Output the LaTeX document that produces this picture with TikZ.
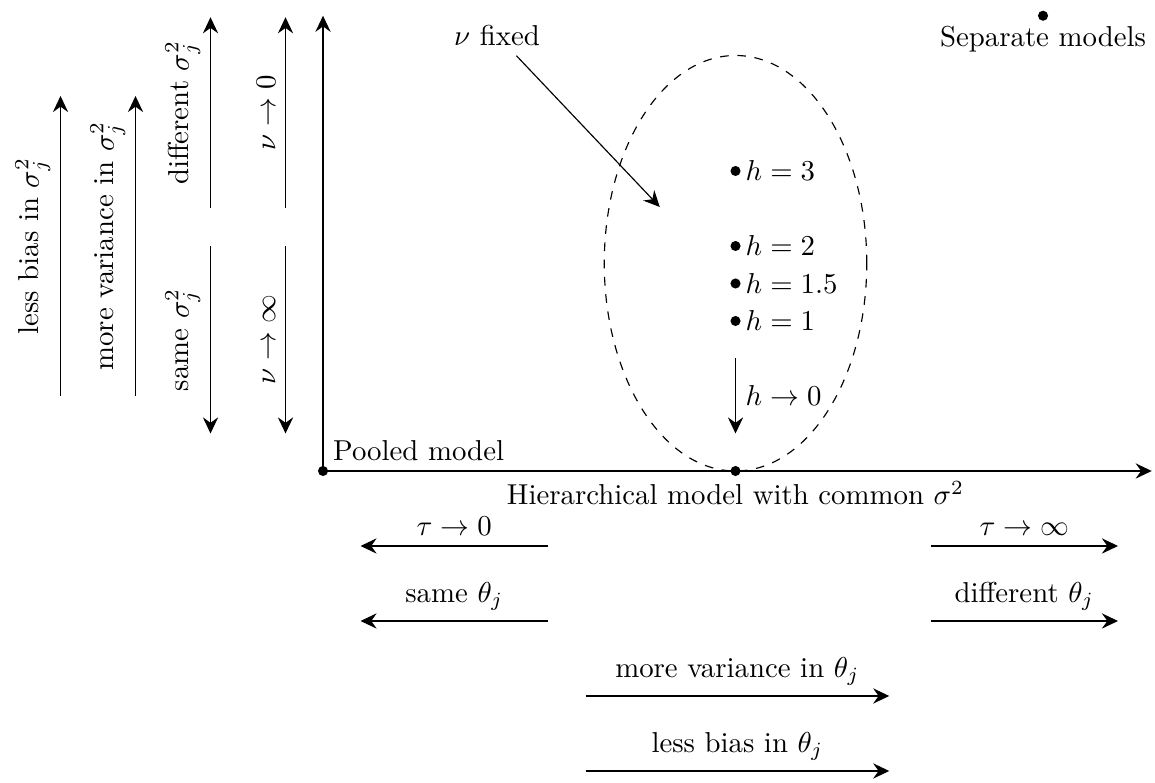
\documentclass[tikz,border=0pt]{standalone}
\usepackage{tikz}
\usetikzlibrary{arrows.meta}

\begin{document}
\begin{tikzpicture}[x=0.915cm, y=0.915cm]
  \tikzset{
    dot/.style={
      circle,
      fill=black,
      inner sep=0pt,
      minimum size=3.5pt
    },
    trend/.style={
      -{Stealth[length=5.6pt,width=5.3pt,inset=1.9pt]}
    },
    backtrend/.style={
      {Stealth[length=5.6pt,width=5.3pt,inset=1.9pt]}-
    }
  }
  \useasboundingbox (-4.307,-4.147) rectangle (11.093,6.28);

  % Draw the axes
  \node[dot] (pooled) at (0,0) {};
  \coordinate (ytop) at (0,6.07);
  \coordinate (xend) at (11.05,0);
  \draw[trend] (pooled.center) -- (ytop);
  \draw[trend] (pooled.center) -- (xend);
  \node[above right] (pooledlab) at (pooled.center) {Pooled model};

  % Hierarchical model and the h family
  \node[dot] (hier) at (5.5,0) {};
  \node[below] (hierlab) at (hier.center) {Hierarchical model with common $\sigma^2$};
  \draw[dashed] (5.5,2.77) ellipse [x radius=1.75, y radius=2.77];
  \node[dot] (h3) at (5.5,4) {};
  \node[right] (h3lab) at (h3.center) {$h=3$};
  \node[dot] (h2) at (5.5,3) {};
  \node[right] (h2lab) at (h2.center) {$h=2$};
  \node[dot] (h15) at (5.5,2.5) {};
  \node[right] (h15lab) at (h15.center) {$h=1.5$};
  \node[dot] (h1) at (5.5,2) {};
  \node[right] (h1lab) at (h1.center) {$h=1$};
  \coordinate (hfrom) at (5.5,1.5);
  \coordinate (hto) at (5.5,0.5);
  \draw[trend] (hfrom) -- (hto) node[midway, right] (hlab) {$h\to 0$};

  % nu fixed pointer
  \node (nufixed) at (2.32,5.81) {$\nu$ fixed};
  \coordinate (nutip) at (4.49,3.52);
  \draw[trend] (nufixed) -- (nutip);

  % Separate models
  \node[dot] (sep) at (9.6,6.07) {};
  \node[below] (seplab) at (sep.center) {Separate models};

  % Vertical trends on the left
  \coordinate (lbs0) at (-3.5,1);
  \coordinate (lbs1) at (-3.5,5);
  \draw[trend] (lbs0) -- (lbs1) node[midway, above, sloped] (lbslab) {less bias in $\sigma_j^2$};
  \coordinate (mvs0) at (-2.5,1);
  \coordinate (mvs1) at (-2.5,5);
  \draw[trend] (mvs0) -- (mvs1) node[midway, above, sloped] (mvslab) {more variance in $\sigma_j^2$};
  \coordinate (dfs0) at (-1.5,3.5);
  \coordinate (dfs1) at (-1.5,6.05);
  \draw[trend] (dfs0) -- (dfs1) node[midway, above, sloped] (dfslab) {different $\sigma_j^2$};
  \coordinate (sms0) at (-1.5,0.5);
  \coordinate (sms1) at (-1.5,3);
  \draw[backtrend] (sms0) -- (sms1) node[midway, above, sloped] (smslab) {same $\sigma_j^2$};
  \coordinate (nuz0) at (-0.5,3.5);
  \coordinate (nuz1) at (-0.5,6.05);
  \draw[trend] (nuz0) -- (nuz1) node[midway, above, sloped] (nuzlab) {$\nu\to 0$};
  \coordinate (nui0) at (-0.5,0.5);
  \coordinate (nui1) at (-0.5,3);
  \draw[backtrend] (nui0) -- (nui1) node[midway, above, sloped] (nuilab) {$\nu\to\infty$};

  % Horizontal trends below
  \coordinate (tz0) at (0.5,-1);
  \coordinate (tz1) at (3,-1);
  \draw[backtrend] (tz0) -- (tz1) node[midway, above] (tzlab) {$\tau\to 0$};
  \coordinate (smt0) at (0.5,-2);
  \coordinate (smt1) at (3,-2);
  \draw[backtrend] (smt0) -- (smt1) node[midway, above] (smtlab) {same $\theta_j$};
  \coordinate (ti0) at (8.1,-1);
  \coordinate (ti1) at (10.6,-1);
  \draw[trend] (ti0) -- (ti1) node[midway, above] (tilab) {$\tau\to\infty$};
  \coordinate (dft0) at (8.1,-2);
  \coordinate (dft1) at (10.6,-2);
  \draw[trend] (dft0) -- (dft1) node[midway, above] (dftlab) {different $\theta_j$};
  \coordinate (mvt0) at (3.5,-3);
  \coordinate (mvt1) at (7.55,-3);
  \draw[trend] (mvt0) -- (mvt1) node[midway, above] (mvtlab) {more variance in $\theta_j$};
  \coordinate (lbt0) at (3.5,-4);
  \coordinate (lbt1) at (7.55,-4);
  \draw[trend] (lbt0) -- (lbt1) node[midway, above] (lbtlab) {less bias in $\theta_j$};

\end{tikzpicture}
\end{document}
